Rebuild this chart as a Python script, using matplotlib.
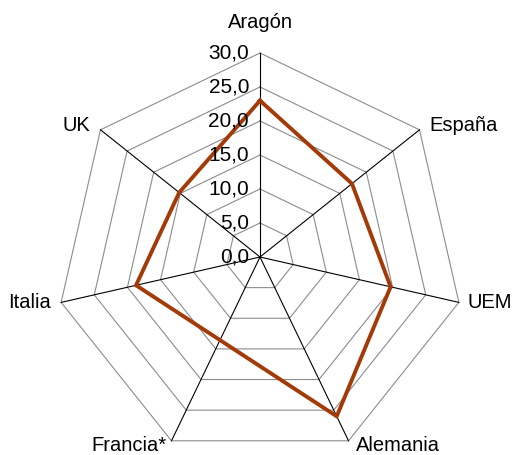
import numpy as np
import matplotlib
matplotlib.use("Agg")
import matplotlib.pyplot as plt
from matplotlib.transforms import offset_copy

# Radar chart: regions vs. a single series (Francia* has no value)

categories = ["Aragón", "España", "UEM", "Alemania", "Francia*", "Italia", "UK"]
values = [23.0, 17.3, 19.7, 26.0, np.nan, 18.7, 15.2]
ring_levels = [5, 10, 15, 20, 25, 30]
tick_values = [0, 5, 10, 15, 20, 25, 30]
tick_labels = ["0,0", "5,0", "10,0", "15,0", "20,0", "25,0", "30,0"]

plt.rcParams["font.family"] = ["Liberation Sans", "DejaVu Sans"]

W, H = 513, 455
cx, cy, R = 260, 257, 204

fig = plt.figure(figsize=(W / 100, H / 100), dpi=100)
ax = fig.add_axes([(cx - R) / W, (H - cy - R) / H, 2 * R / W, 2 * R / H],
                  projection="polar")
ax.set_theta_zero_location("N")
ax.set_theta_direction(-1)
ax.set_ylim(0, 30)
ax.set_axis_off()

n = len(categories)
theta = np.arange(n) * 2 * np.pi / n
theta_closed = np.append(theta, theta[0])

# polygon rings
for r in ring_levels:
    ax.plot(theta_closed, [r] * (n + 1), color="#8c8c8c", lw=0.8, clip_on=False, zorder=1)

# spokes
for t in theta:
    ax.plot([t, t], [0, 30], color="black", lw=0.8, clip_on=False, zorder=2)

# data series, skipping the missing point
vals = np.array(values)
ok = ~np.isnan(vals)
th = np.append(theta[ok], theta[ok][0])
vv = np.append(vals[ok], vals[ok][0])
ax.plot(th, vv, color="#A33A08", lw=2.8, clip_on=False, zorder=3,
        solid_joinstyle="miter")

# radial tick labels along the top spoke
tr = offset_copy(ax.transData, fig=fig, x=-11, y=0, units="dots")
for v, lab in zip(tick_values, tick_labels):
    ax.text(0, v, lab, transform=tr, ha="right", va="center", fontsize=15, zorder=4)

# category labels
label_pos = [
    (0, 31, "center"),
    (10, 4, "left"),
    (9, 0, "left"),
    (7, -5, "left"),
    (-5, -5, "right"),
    (-10, 0, "right"),
    (-10, 4, "right"),
]
for t, name, (dx, dy, ha) in zip(theta, categories, label_pos):
    tr = offset_copy(ax.transData, fig=fig, x=dx, y=dy, units="dots")
    ax.text(t, 30, name, transform=tr, ha=ha, va="center", fontsize=14.5)

fig.savefig("out.png", dpi=100)
